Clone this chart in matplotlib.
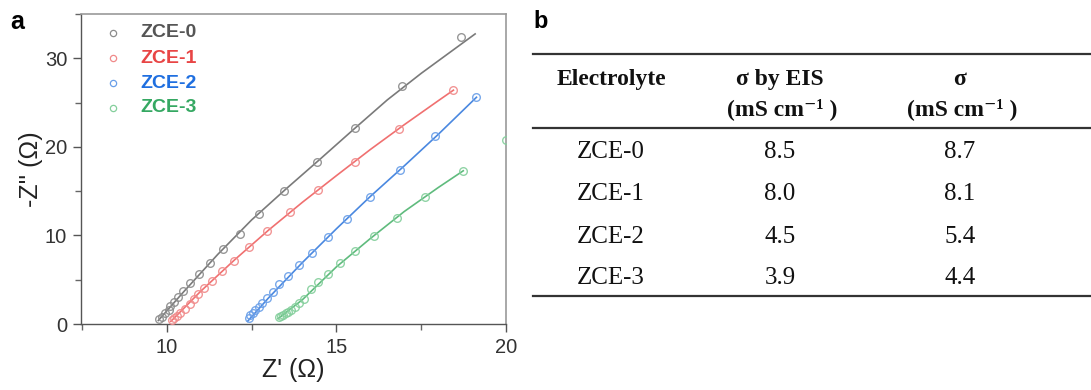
import matplotlib
matplotlib.use("Agg")
import matplotlib.pyplot as plt
from matplotlib.lines import Line2D
from matplotlib.ticker import MultipleLocator

plt.rcParams['font.family'] = ['Liberation Sans', 'DejaVu Sans']

# ---------------- data ----------------
series_names = ["ZCE-0", "ZCE-1", "ZCE-2", "ZCE-3"]

z0_re = [9.78, 9.85, 9.95, 10.05, 10.10, 10.22, 10.34, 10.49, 10.69, 10.95, 11.26, 11.66, 12.15, 12.72, 13.46, 14.44, 15.56, 16.93, 18.68]
z0_im = [0.53, 0.83, 1.21, 1.58, 2.03, 2.52, 3.09, 3.73, 4.60, 5.61, 6.86, 8.44, 10.17, 12.43, 14.99, 18.27, 22.18, 26.82, 32.39]
z0_fit_re = [9.75, 10.5, 11.5, 12.5, 13.5, 14.5, 15.5, 16.5, 17.5, 18.5, 19.09]
z0_fit_im = [0.4, 3.65, 7.85, 11.75, 15.2, 18.55, 21.95, 25.3, 28.3, 31.1, 32.75]

z1_re = [10.15, 10.22, 10.30, 10.39, 10.54, 10.67, 10.79, 10.93, 11.10, 11.34, 11.62, 11.97, 12.41, 12.96, 13.63, 14.46, 15.56, 16.86, 18.45]
z1_im = [0.45, 0.64, 0.90, 1.21, 1.66, 2.22, 2.79, 3.39, 4.03, 4.90, 5.95, 7.16, 8.66, 10.51, 12.62, 15.14, 18.31, 22.07, 26.40]
z1_fit_re = [10.12, 11.0, 12.0, 13.0, 14.0, 15.0, 16.0, 17.0, 18.0, 18.45]
z1_fit_im = [0.3, 3.7, 7.25, 10.6, 13.75, 16.75, 19.7, 22.5, 25.2, 26.4]

z2_re = [12.42, 12.46, 12.53, 12.61, 12.71, 12.81, 12.96, 13.14, 13.32, 13.57, 13.89, 14.29, 14.76, 15.30, 15.99, 16.88, 17.91, 19.13]
z2_im = [0.64, 0.98, 1.28, 1.58, 1.96, 2.34, 2.98, 3.65, 4.48, 5.42, 6.63, 8.06, 9.83, 11.86, 14.35, 17.44, 21.17, 25.61]
z2_fit_re = [12.38, 13.0, 14.0, 15.0, 16.0, 17.0, 18.0, 19.13]
z2_fit_im = [0.3, 2.95, 6.95, 10.75, 14.4, 17.85, 21.4, 25.6]

z3_re = [13.30, 13.37, 13.43, 13.50, 13.58, 13.67, 13.77, 13.89, 14.04, 14.24, 14.46, 14.75, 15.11, 15.55, 16.11, 16.78, 17.61, 18.74, 19.99]
z3_im = [0.75, 0.90, 1.02, 1.21, 1.36, 1.58, 1.96, 2.34, 2.79, 3.92, 4.78, 5.65, 6.86, 8.25, 9.94, 12.01, 14.35, 17.32, 20.76]
z3_fit_re = [13.28, 14.0, 15.0, 16.0, 17.0, 18.0, 18.74]
z3_fit_im = [0.6, 2.75, 6.45, 9.65, 12.7, 15.4, 17.3]

table_header_1 = ["Electrolyte", "σ by EIS", "σ"]
table_header_2 = ["", "(mS cm⁻¹ )", "(mS cm⁻¹ )"]
table_electrolytes = ["ZCE-0", "ZCE-1", "ZCE-2", "ZCE-3"]
table_sigma_eis = ["8.5", "8.0", "4.5", "3.9"]
table_sigma = ["8.7", "8.1", "5.4", "4.4"]

# ---------------- styles ----------------
marker_colors = ["#8c8c8c", "#f08a8a", "#6a9fe8", "#84cf9c"]
line_colors = ["#7a7a7a", "#f07070", "#4a88e0", "#5fbb7d"]
text_colors = ["#555555", "#e84545", "#1f6fe0", "#35a862"]

W, H = 1091, 390
fig = plt.figure(figsize=(W / 100, H / 100), dpi=100)

def fx(px):
    return px / W

def fy(py):
    return 1 - py / H

ax = fig.add_axes([fx(81), fy(324), fx(506) - fx(81), fy(14) - fy(324)])

data = [(z0_re, z0_im, z0_fit_re, z0_fit_im),
        (z1_re, z1_im, z1_fit_re, z1_fit_im),
        (z2_re, z2_im, z2_fit_re, z2_fit_im),
        (z3_re, z3_im, z3_fit_re, z3_fit_im)]

for i, (xr, yi, fxr, fyi) in enumerate(data):
    ax.plot(fxr, fyi, color=line_colors[i], lw=1.2, zorder=2)
    ax.plot(xr, yi, linestyle='none', marker='o', markersize=5.5,
            markerfacecolor='none', markeredgecolor=marker_colors[i],
            markeredgewidth=1.0, alpha=0.9, zorder=3)

ax.set_xlim(7.47, 20.0)
ax.set_ylim(0, 35)
ax.xaxis.set_major_locator(MultipleLocator(5))
ax.xaxis.set_minor_locator(MultipleLocator(2.5))
ax.yaxis.set_major_locator(MultipleLocator(10))
ax.yaxis.set_minor_locator(MultipleLocator(5))
ax.tick_params(which='major', direction='out', length=6, width=1, color='#555555',
               labelsize=14.5, labelcolor='#333333', pad=4)
ax.tick_params(which='minor', direction='out', length=4, width=1, color='#666666')
for s in ['left', 'bottom']:
    ax.spines[s].set_color('#555555')
    ax.spines[s].set_linewidth(1.0)
for s in ['top', 'right']:
    ax.spines[s].set_color('#9a9a9a')
    ax.spines[s].set_linewidth(1.2)

ax.set_xlabel("Z' (Ω)", fontsize=18, color='#222222', labelpad=1)
ax.set_ylabel("-Z'' (Ω)", fontsize=18, color='#222222', labelpad=1)

# legend (manual)
leg_y = [0.939, 0.858, 0.777, 0.697]
for i, name in enumerate(series_names):
    ax.plot([0.0753], [leg_y[i]], transform=ax.transAxes, marker='o', markersize=4.5,
            markerfacecolor='none', markeredgecolor=marker_colors[i], markeredgewidth=0.9,
            linestyle='none', clip_on=False)
    ax.text(0.139, leg_y[i], name, transform=ax.transAxes, fontsize=14, fontweight='bold',
            color=text_colors[i], va='center', ha='left')

fig.text(fx(10), fy(29), "a", fontsize=18, fontweight='bold', ha='left', va='baseline')
fig.text(fx(533), fy(28), "b", fontsize=17, fontweight='bold', ha='left', va='baseline')

# ---------------- table ----------------
serif = ['Liberation Serif', 'DejaVu Serif']
col_x = [611, 780, 960]
for y in [54, 127.5, 295.5]:
    fig.add_artist(Line2D([fx(533), fx(1091)], [fy(y), fy(y)], color='#333333', lw=1.6))

for j in range(3):
    fig.text(fx(col_x[j]), fy(85), table_header_1[j], family=serif, fontsize=17,
             fontweight='bold', ha='center', va='baseline', color='#111111')
    if table_header_2[j]:
        fig.text(fx(col_x[j] + 2), fy(115), table_header_2[j], family=serif, fontsize=17,
                 fontweight='bold', ha='center', va='baseline', color='#111111')

row_base = [158.3, 200, 242.7, 284]
for r in range(4):
    vals = [table_electrolytes[r], table_sigma_eis[r], table_sigma[r]]
    for j in range(3):
        fig.text(fx(col_x[j]), fy(row_base[r]), vals[j], family=serif, fontsize=18,
                 ha='center', va='baseline', color='#111111')

fig.savefig("out.png", dpi=100)
